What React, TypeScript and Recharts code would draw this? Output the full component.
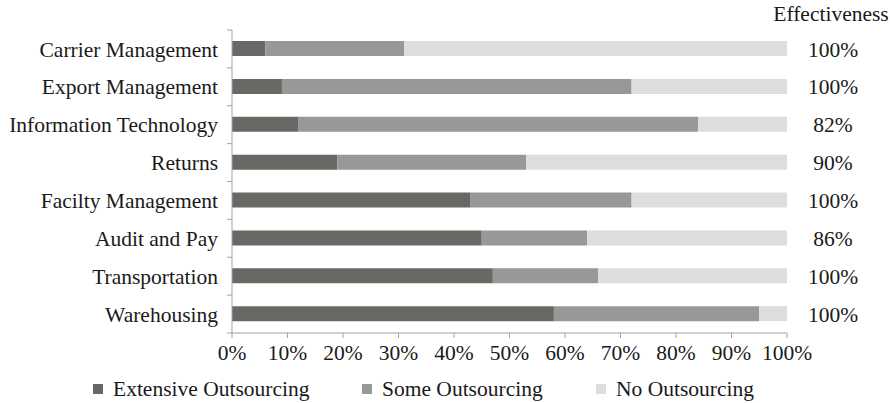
import React from 'react';
import { BarChart, Bar, XAxis, YAxis, Legend } from 'recharts';

const categories = [
  'Carrier Management',
  'Export Management',
  'Information Technology',
  'Returns',
  'Facilty Management',
  'Audit and Pay',
  'Transportation',
  'Warehousing',
];
const extensive = [6, 9, 12, 19, 43, 45, 47, 58];
const some = [25, 63, 72, 34, 29, 19, 19, 37];
const none = [69, 28, 16, 47, 28, 36, 34, 5];
const effectiveness = ['100%', '100%', '82%', '90%', '100%', '86%', '100%', '100%'];
const xTicks = [0, 10, 20, 30, 40, 50, 60, 70, 80, 90, 100];

const data = categories.map((name, i) => ({
  name,
  extensive: extensive[i],
  some: some[i],
  none: none[i],
}));

const FONT = "'Liberation Serif', 'DejaVu Serif', serif";
const FS = 21.5;
const TEXT = '#1a1a1a';
const AXIS = '#a3a3a3';

const series = [
  { key: 'extensive', label: 'Extensive Outsourcing', color: '#686865' },
  { key: 'some', label: 'Some Outsourcing', color: '#989898' },
  { key: 'none', label: 'No Outsourcing', color: '#dcdddc' },
];

// category label plus tick marks at the band edges (like Excel)
const LeftTick = (props: any) => {
  const { x, y, payload, index, visibleTicksCount } = props;
  const half = payload && payload.offset ? payload.offset : 18.9;
  const axisX = x + 14;
  return (
    <g>
      <line x1={axisX - 5} x2={axisX} y1={y - half} y2={y - half} stroke={AXIS} />
      {index === visibleTicksCount - 1 && (
        <line x1={axisX - 5} x2={axisX} y1={y + half} y2={y + half} stroke={AXIS} />
      )}
      <text x={x} y={y} dy="0.355em" textAnchor="end" fill={TEXT} fontSize={FS} style={{ fontFamily: FONT }}>
        {payload.value}
      </text>
    </g>
  );
};

const RightTick = (props: any) => {
  const { x, y, index } = props;
  return (
    <text x={x + 38} y={y} dy="0.355em" textAnchor="middle" fill={TEXT} fontSize={FS} style={{ fontFamily: FONT }}>
      {effectiveness[index]}
    </text>
  );
};

const renderLegend = () => (
  <div style={{ position: 'relative', height: 30, fontFamily: FONT, fontSize: FS, color: TEXT }}>
    {series.map((s, i) => (
      <div
        key={s.key}
        style={{
          position: 'absolute',
          left: [93, 362, 596][i],
          top: 4,
          display: 'flex',
          alignItems: 'center',
          whiteSpace: 'nowrap',
          lineHeight: '24px',
        }}
      >
        <span style={{ display: 'inline-block', width: 10, height: 10, background: s.color, marginRight: 10 }} />
        <span>{s.label}</span>
      </div>
    ))}
  </div>
);

export default function App() {
  return (
    <div style={{ position: 'absolute', left: 0, top: 0, width: 890, height: 403, background: '#fff', fontFamily: FONT }}>
      <div
        style={{
          position: 'absolute',
          left: 773,
          width: 116,
          top: 2,
          textAlign: 'center',
          fontFamily: FONT,
          fontSize: FS,
          color: TEXT,
          lineHeight: '24px',
          whiteSpace: 'nowrap',
        }}
      >
        Effectiveness
      </div>
      <BarChart
        width={890}
        height={403}
        data={data}
        layout="vertical"
        margin={{ top: 30, right: 0, bottom: 0, left: 0 }}
        style={{ fontFamily: FONT }}
      >
        <XAxis
          type="number"
          domain={[0, 100]}
          ticks={xTicks}
          tickFormatter={(v) => `${v}%`}
          stroke={AXIS}
          tickSize={5}
          tickMargin={7}
          height={40}
          tick={{ fill: TEXT, fontSize: FS, style: { fontFamily: FONT } }}
          interval={0}
        />
        <YAxis
          yAxisId="left"
          type="category"
          dataKey="name"
          width={232}
          stroke={AXIS}
          tickLine={false}
          tickSize={5}
          tickMargin={9}
          tick={<LeftTick />}
          interval={0}
        />
        <YAxis
          yAxisId="right"
          orientation="right"
          type="category"
          dataKey="name"
          width={103}
          axisLine={false}
          tickLine={false}
          tick={<RightTick />}
          interval={0}
        />
        <Legend verticalAlign="bottom" content={renderLegend} wrapperStyle={{ left: 0, width: 890, height: 30 }} />
        {series.map((s) => (
          <Bar
            key={s.key}
            yAxisId="left"
            dataKey={s.key}
            stackId="a"
            fill={s.color}
            barSize={15}
            isAnimationActive={false}
            name={s.label}
          />
        ))}
      </BarChart>
    </div>
  );
}
